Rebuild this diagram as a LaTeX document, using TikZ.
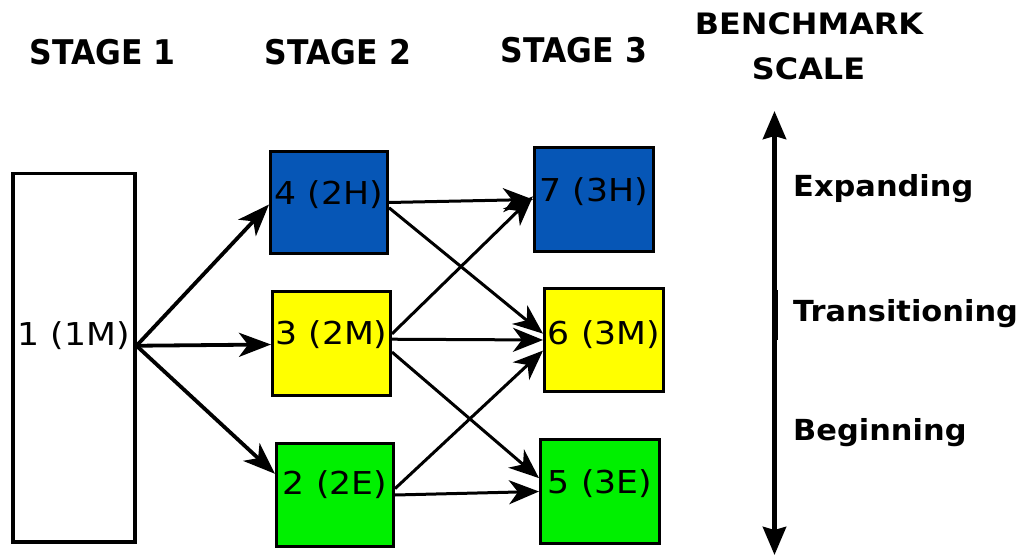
\documentclass[tikz,border=0pt]{standalone}
\usepackage{fontspec}
\usepackage{graphicx}
\setmainfont{DejaVu Sans}
\usetikzlibrary{arrows.meta,calc}
\definecolor{hblue}{RGB}{6,86,182}
\definecolor{myellow}{RGB}{255,255,0}
\definecolor{egreen}{RGB}{0,240,0}
\newcommand{\sx}[1]{\scalebox{1.1}[1]{#1}}
\newcommand{\hx}[1]{\scalebox{0.925}[1]{#1}}
\newcommand{\bx}[1]{\scalebox{1.08}[1]{#1}}
\newcommand{\lx}[1]{\scalebox{1.05}[1]{#1}}
\begin{document}
\begin{tikzpicture}[x=1pt,y=-1pt,
  box/.style={draw=black,line width=3pt,inner xsep=0pt,inner ysep=0pt,anchor=north west,
    font=\fontsize{31.5}{36}\selectfont},
  head/.style={anchor=base,inner sep=0pt,font=\bfseries\fontsize{34}{40}\selectfont},
  bench/.style={anchor=base,inner sep=0pt,font=\bfseries\fontsize{29.5}{34}\selectfont},
  lvl/.style={anchor=base west,inner sep=0pt,font=\bfseries\fontsize{29}{34}\selectfont},
  arr/.style={line width=3pt,-{Stealth[length=30pt,width=24pt,inset=9pt]}},
  arrthick/.style={line width=3.8pt,-{Stealth[length=32pt,width=24pt,inset=9pt]}},
  scalearr/.style={line width=5pt,{Stealth[length=28pt,width=23pt,inset=3pt]}-{Stealth[length=28pt,width=23pt,inset=3pt]}}]
\useasboundingbox (0,0) rectangle (1029,556);

% headings
\node[head] (h1) at (102.5,65) {\hx{STAGE 1}};
\node[head] (h2) at (338,65) {\hx{STAGE 2}};
\node[head] (h3) at (574,63) {\hx{STAGE 3}};
\node[bench] (h4) at (809,35) {\bx{BENCHMARK}};
\node[bench] (h5) at (808.5,80) {\bx{SCALE}};

% boxes
\node[box,line width=3.5pt,fill=white,minimum width=122pt,text height=172pt,text depth=196pt] (b1) at (11,172) {\sx{1 (1M)}};
\node[box,fill=hblue,minimum width=117pt,text height=53pt,text depth=49pt] (b4) at (269,150) {\sx{4 (2H)}};
\node[box,fill=myellow,minimum width=118pt,text height=53pt,text depth=51pt] (b3) at (271,290) {\sx{3 (2M)}};
\node[box,fill=egreen,minimum width=117pt,text height=51pt,text depth=52pt] (b2) at (275,442) {\sx{2 (2E)}};
\node[box,fill=hblue,minimum width=119pt,text height=54pt,text depth=50pt] (b7) at (533,146) {\sx{7 (3H)}};
\node[box,fill=myellow,minimum width=119pt,text height=56pt,text depth=47pt] (b6) at (543,287) {\sx{6 (3M)}};
\node[box,fill=egreen,minimum width=119pt,text height=54pt,text depth=50pt] (b5) at (539,438) {\sx{5 (3E)}};

% stage 1 -> stage 2
\draw[arrthick] (b1.base east) -- (b4.base west);
\draw[arrthick] (b1.base east) -- (b3.base west);
\draw[arrthick] (b1.base east) -- ($(b2.north west)!0.3!(b2.south west)$);

% stage 2 -> stage 3
\draw[arr] (b4.east) -- (b7.west);
\draw[arr] ($(b4.north east)!0.55!(b4.south east)$) -- ($(b6.north west)!0.44!(b6.south west)$);
\draw[arr] ($(b3.north east)!0.41!(b3.south east)$) -- ($(b7.north west)!0.47!(b7.south west)$);
\draw[arr] ($(b3.north east)!0.46!(b3.south east)$) -- (b6.west);
\draw[arr] ($(b3.north east)!0.58!(b3.south east)$) -- ($(b5.north west)!0.375!(b5.south west)$);
\draw[arr] ($(b2.north east)!0.44!(b2.south east)$) -- ($(b6.north west)!0.6!(b6.south west)$);
\draw[arr] (b2.east) -- (b5.west);

% benchmark scale
\coordinate (st) at (774.5,111);
\coordinate (sb) at (774.5,555);
\draw[scalearr] (sb) -- (st);
\coordinate (tk1) at (776,290);
\coordinate (tk2) at (776,340);
\draw[line width=4pt] (tk1) -- (tk2);
\node[lvl] (l1) at (793,197) {\lx{Expanding}};
\node[lvl] (l2) at (793,322) {\lx{Transitioning}};
\node[lvl] (l3) at (793,440) {\lx{Beginning}};
\end{tikzpicture}
\end{document}
